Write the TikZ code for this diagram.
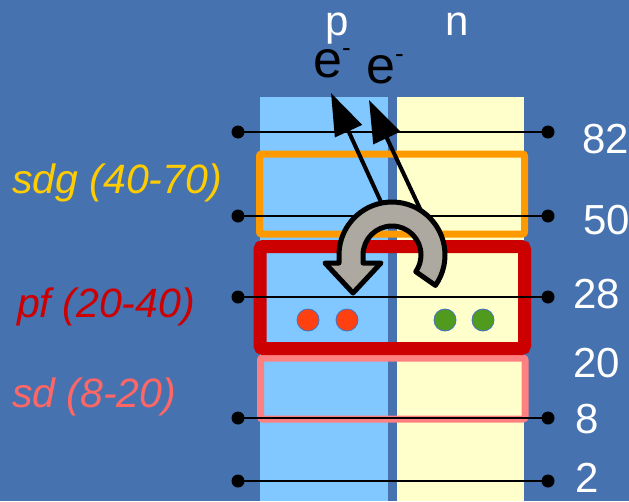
\documentclass[tikz,border=0pt]{standalone}
\usepackage{fontspec}
\setmainfont{Liberation Sans}
\usetikzlibrary{arrows.meta,calc}
\definecolor{bg}{RGB}{70,114,176}
\definecolor{colblue}{RGB}{128,200,255}
\definecolor{colyel}{RGB}{255,255,204}
\definecolor{sdgc}{RGB}{255,153,0}
\definecolor{sdgtext}{RGB}{255,204,0}
\definecolor{pfc}{RGB}{204,0,0}
\definecolor{sdc}{RGB}{255,128,128}
\definecolor{sdtext}{RGB}{255,102,102}
\definecolor{holec}{RGB}{255,64,16}
\definecolor{elc}{RGB}{80,155,30}
\definecolor{grayarr}{RGB}{173,168,160}
\definecolor{outl}{RGB}{68,114,196}
\newcommand{\emin}{\raisebox{21pt}{\fontsize{26}{26}\selectfont -}}
\begin{document}
\begin{tikzpicture}[x=1pt,y=-1pt,
  dot/.style={circle,fill=black,inner sep=0pt,minimum size=13pt},
  lvl/.style={draw=black,line width=1.3pt},
  big/.style={font=\fontsize{42}{50}\selectfont,text=white,inner sep=0pt},
  lab/.style={font=\fontsize{41}{49}\selectfont\itshape,inner sep=0pt,anchor=base west},
  elec/.style={font=\fontsize{52}{60}\selectfont,text=black,inner sep=0pt,anchor=base west,text height=28pt,text depth=0pt},
  carrier/.style={circle,draw=outl,line width=0.8pt,inner sep=0pt,minimum size=22pt},
  earrow/.style={draw=black,line width=4pt,-{Triangle[length=42pt,width=29pt]}}]
\fill[bg] (0,0) rectangle (629,501);
\useasboundingbox (0,0) rectangle (629,501);
% columns
\fill[colblue] (260,97) rectangle (388,501);
\fill[colyel] (397,97) rectangle (524,501);
% band boxes
\draw[sdgc,line width=7pt,rounded corners=2pt] (259.5,154) rectangle (524.5,234);
\draw[sdc,line width=7pt,rounded corners=2pt] (260.5,358) rectangle (525,419);
\draw[pfc,line width=13pt,rounded corners=3pt] (260,246.5) rectangle (524.5,348.5);
% level lines
\foreach \n/\y in {a/132,b/216,c/297,d/418,e/481}{
  \node[dot] (l\n) at (238,\y) {};
  \node[dot] (r\n) at (548,\y) {};
  \draw[lvl] (l\n.center) -- (r\n.center);
}
% carriers
\node[carrier,fill=holec] (h1) at (308,320) {};
\node[carrier,fill=holec] (h2) at (347,320) {};
\node[carrier,fill=elc] (n1) at (445,320) {};
\node[carrier,fill=elc] (n2) at (483,320) {};
% labels
\node[big,anchor=base] (p) at (337,35) {p};
\node[big,anchor=base] (n) at (457,35) {n};
\node[big,anchor=base west] (v82) at (582,153) {82};
\node[big,anchor=base west] (v50) at (583,234) {50};
\node[big,anchor=base west] (v28) at (573,308) {28};
\node[big,anchor=base west] (v20) at (573,377) {20};
\node[big,anchor=base west] (v8) at (575,433) {8};
\node[big,anchor=base west] (v2) at (575,492) {2};
\node[lab,text=sdgtext] (sdg) at (12,193) {sdg (40-70)};
\node[lab,text=pfc] (pf) at (17,317) {pf (20-40)};
\node[lab,text=sdtext] (sd) at (12,407) {sd (8-20)};
% electrons
\node[elec] (e1) at (313,77) {e\emin};
\node[elec] (e2) at (366,83) {e\emin};
\coordinate (s1) at (387,215);
\coordinate (t1) at (331,93);
\coordinate (s2) at (423,215);
\coordinate (t2) at (369,100);
\draw[earrow] (s1) -- (t1);
\draw[earrow] (s2) -- (t2);
% curved gray arrow
\coordinate (C) at (392,255);
\draw[fill=grayarr,draw=black,line width=5pt,line join=round]
  ($(C)+(35:53)$) arc[start angle=35,end angle=-180,radius=53]
  -- (339,263) -- (325,263) -- (353,293) -- (381,263) -- (363,263)
  -- (363,255) arc[start angle=-180,end angle=35,radius=29] -- cycle;
\end{tikzpicture}
\end{document}
